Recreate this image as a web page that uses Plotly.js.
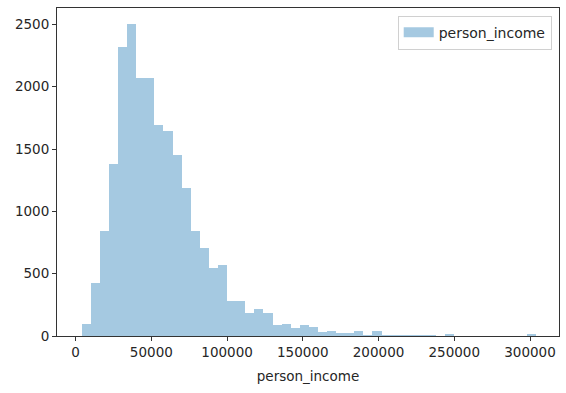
<!DOCTYPE html>
<html>
<head>
<meta charset="utf-8">
<script src="https://cdn.plot.ly/plotly-3.0.1.min.js"></script>
<style>
  html, body { margin: 0; padding: 0; background: #fff; }
  #chart { width: 566px; height: 393px; }
</style>
</head>
<body>
<div id="chart"></div>
<script>
// Histogram of person_income (50 equal-width bins)
const seriesName = "person_income";
const binStart = 4000;      // left edge of first bin
const binWidth = 6000;      // width of each bin
const counts = [100, 427, 845, 1382, 2322, 2507, 2069, 2069, 1694, 1645,
                1452, 1187, 845, 703, 547, 569, 282, 282, 182, 218,
                185, 90, 100, 65, 86, 76, 30, 38, 25, 25,
                38, 5, 38, 10, 10, 10, 10, 10, 10, 0,
                16, 0, 0, 0, 0, 0, 0, 0, 0, 16];
const xTickVals = [0, 50000, 100000, 150000, 200000, 250000, 300000];
const yTickVals = [0, 500, 1000, 1500, 2000, 2500];

const barColor = "rgba(31,119,180,0.4)";
const font = { family: "DejaVu Sans, sans-serif", size: 13.5, color: "#262626" };

const traces = [
  {
    type: "bar",
    y: counts,
    x0: binStart + binWidth / 2,
    dx: binWidth,
    width: binWidth,
    marker: { color: barColor, line: { width: 0 } },
    showlegend: false,
    hoverinfo: "skip"
  },
  {
    // legend entry drawn as a wide patch like matplotlib's
    type: "scatter",
    mode: "lines",
    x: [null],
    y: [null],
    name: seriesName,
    line: { color: barColor, width: 10 },
    showlegend: true,
    hoverinfo: "skip"
  }
];

const axisCommon = {
  showline: true, mirror: true, linecolor: "#333", linewidth: 1,
  ticks: "outside", ticklen: 4, tickwidth: 1, tickcolor: "#333",
  showgrid: false, zeroline: false, tickfont: font
};

const layout = {
  width: 566, height: 393,
  margin: { l: 57, r: 7, t: 8, b: 57 },
  paper_bgcolor: "#fff", plot_bgcolor: "#fff",
  font: font,
  bargap: 0,
  xaxis: Object.assign({}, axisCommon, {
    range: [-12280, 319140],
    tickvals: xTickVals,
    tickformat: "d",
    title: { text: seriesName, font: font, standoff: 12 }
  }),
  yaxis: Object.assign({}, axisCommon, {
    range: [0, 2632],
    tickvals: yTickVals,
    tickformat: "d"
  }),
  legend: {
    x: 0.9855, y: 0.9765, xanchor: "right", yanchor: "top",
    bgcolor: "rgba(255,255,255,0.8)",
    bordercolor: "#d0d0d0", borderwidth: 1,
    font: { family: "DejaVu Sans, sans-serif", size: 14, color: "#262626" }
  },
  hovermode: false
};

Plotly.newPlot("chart", traces, layout, { displayModeBar: false, staticPlot: true });
</script>
</body>
</html>
